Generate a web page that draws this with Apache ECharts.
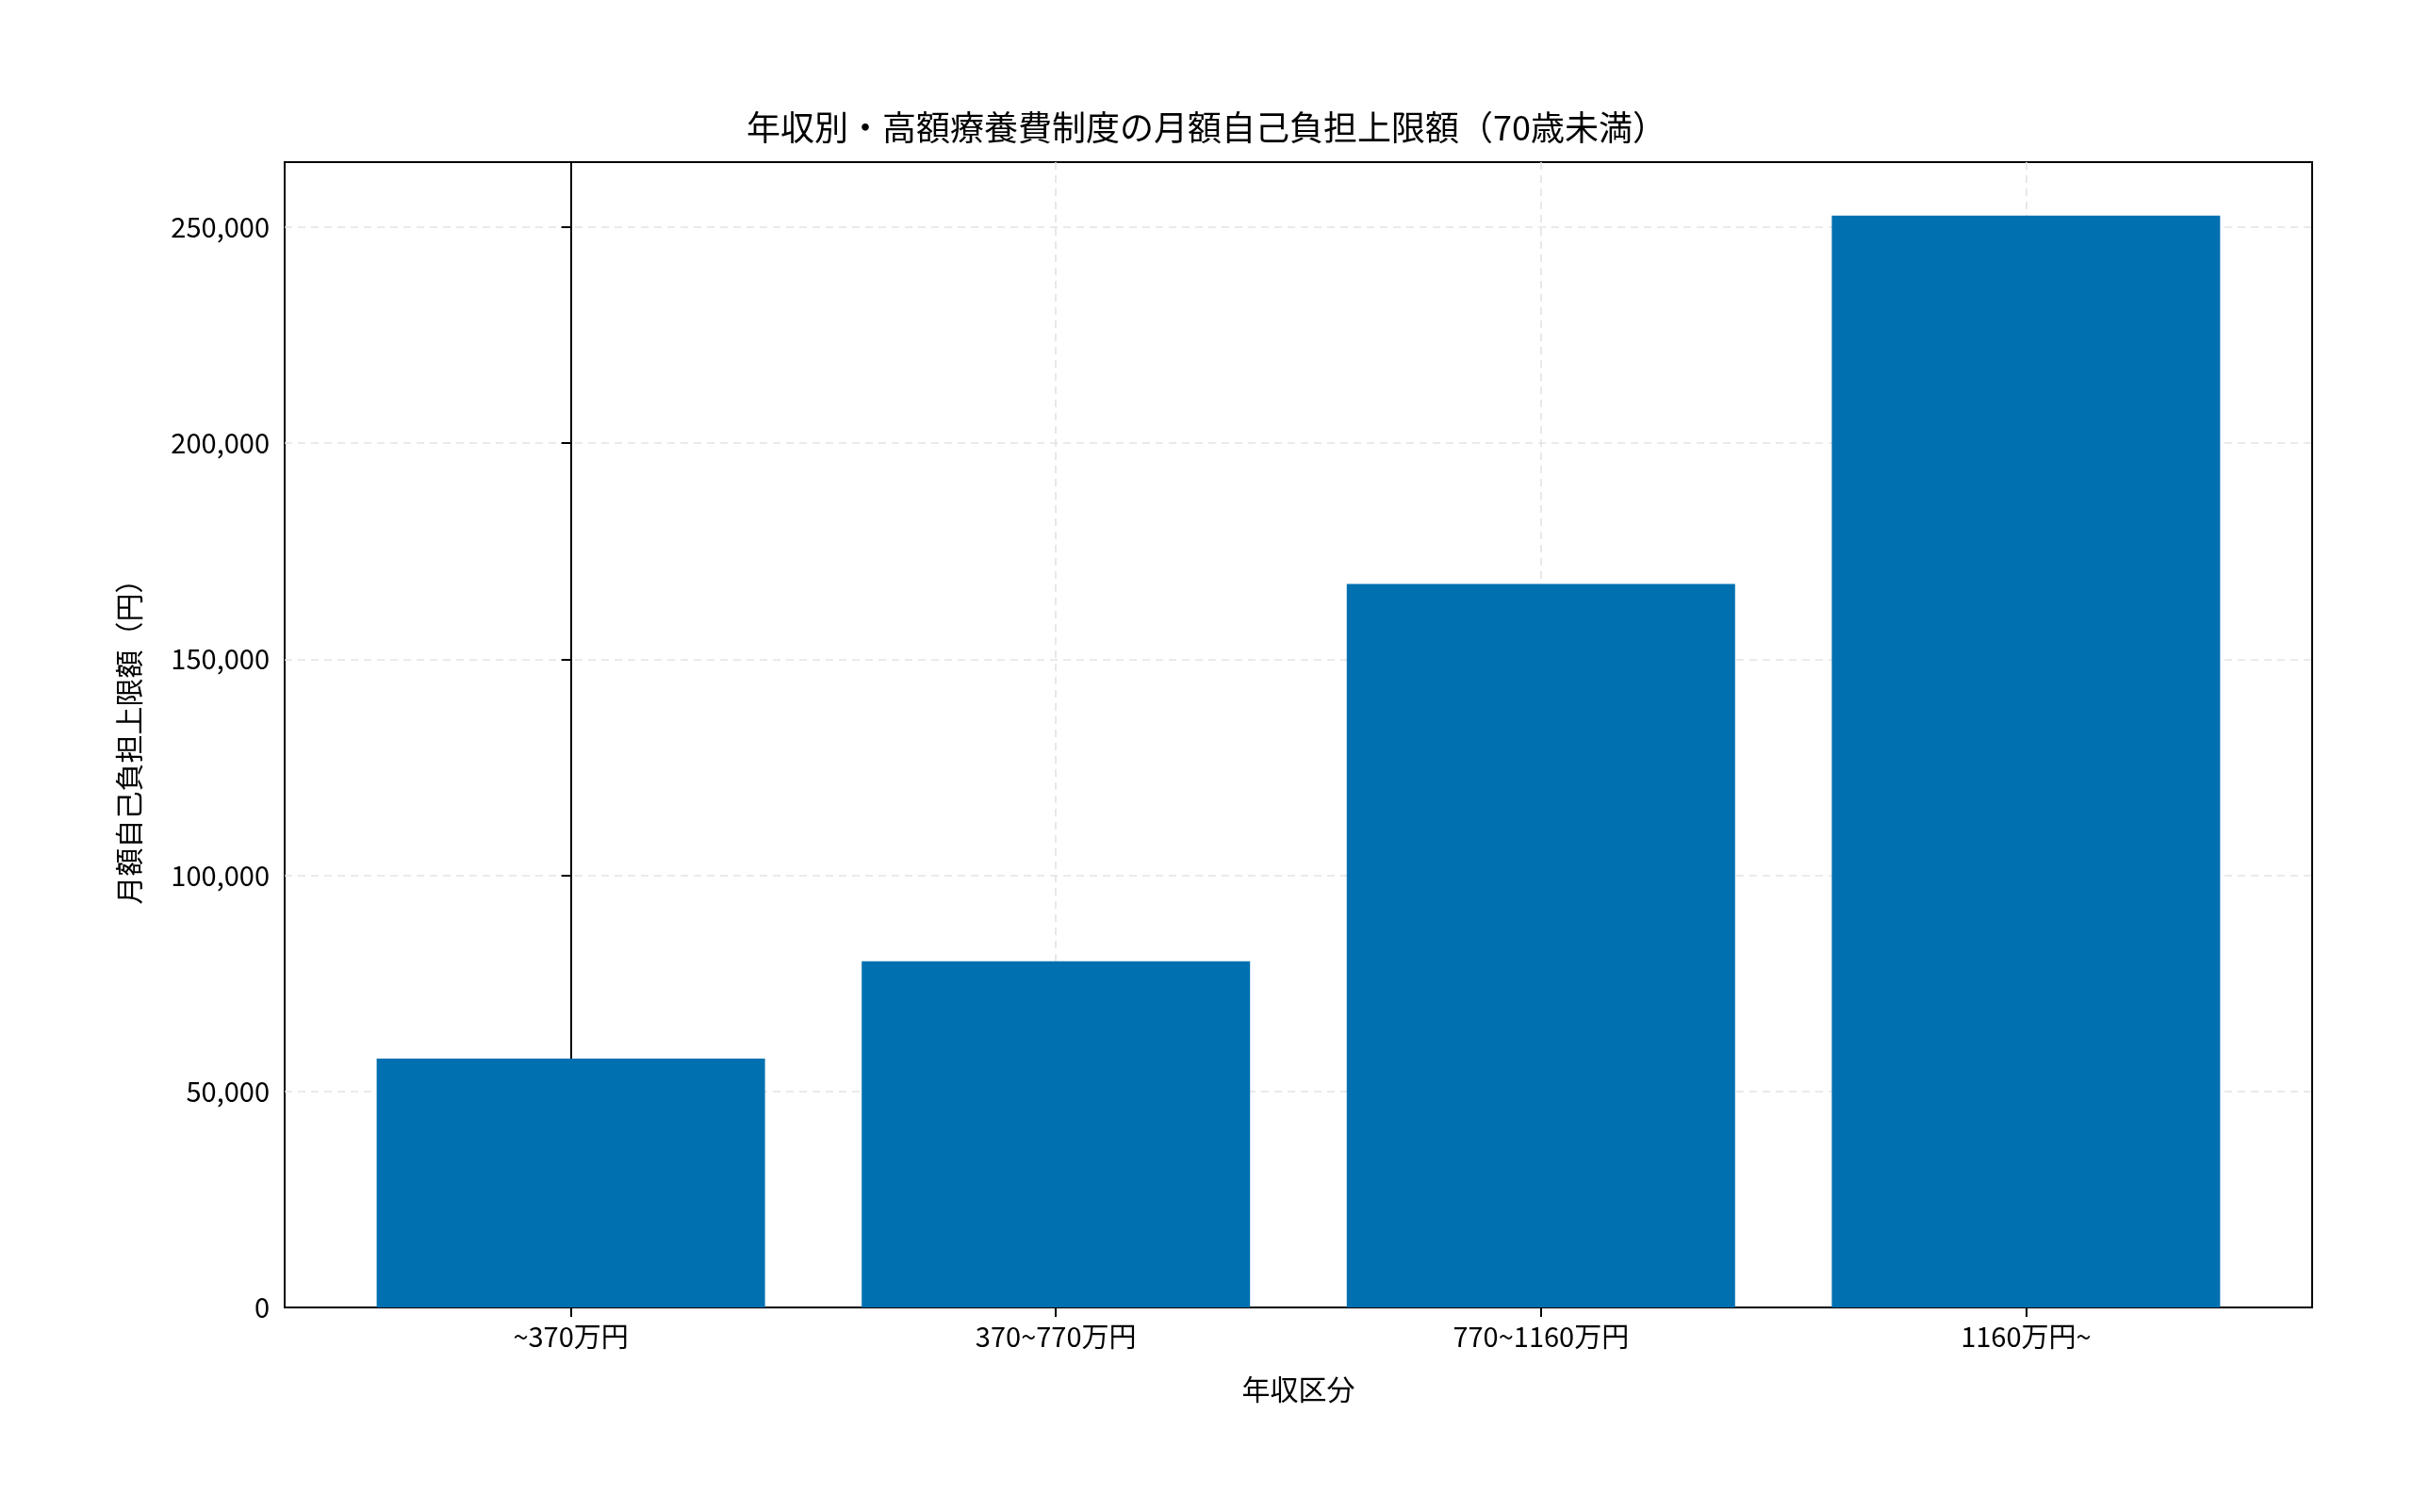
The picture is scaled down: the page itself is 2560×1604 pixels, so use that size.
<!DOCTYPE html>
<html><head><meta charset="utf-8">
<script src="https://cdn.jsdelivr.net/npm/echarts@6/dist/echarts.min.js"></script>
<style>html,body{margin:0;padding:0;background:#fff}#c{width:2560px;height:1604px}</style>
</head><body><div id="c"></div>
<script>
const categories = ['~370万円', '370~770万円', '770~1160万円', '1160万円~'];
const values = [57600, 80100, 167400, 252600];
const yTicks = [0, 50000, 100000, 150000, 200000, 250000];

const font = '"Noto Sans CJK JP", "Noto Sans", sans-serif';
const chart = echarts.init(document.getElementById('c'));
const grid = {color:'#e3e3e3', type:[8,6], width:1.6};
chart.setOption({
  animation:false,
  title:{text:'年収別・高額療養費制度の月額自己負担上限額（70歳未満）', left:'center', top:112,
    textStyle:{fontFamily:font, fontSize:36, fontWeight:'normal', color:'#000'}},
  grid:{left:302, right:107, top:172, bottom:217, show:true, borderColor:'#000', borderWidth:2},
  xAxis:{type:'value', min:-0.59, max:3.59,
    name:'年収区分', nameLocation:'middle', nameGap:72,
    nameTextStyle:{fontFamily:font, fontSize:30, color:'#000'},
    axisLine:{show:true, onZero:false, lineStyle:{color:'#000', width:2}},
    axisTick:{show:true, customValues:[0,1,2,3], length:10, lineStyle:{color:'#000', width:2}},
    axisLabel:{customValues:[0,1,2,3], formatter:v=>categories[Math.round(v)], fontFamily:font, fontSize:29, color:'#000', margin:16},
    splitLine:{show:true, lineStyle:grid}},
  yAxis:{type:'value', min:0, max:265000, interval:50000,
    name:'月額自己負担上限額（円）', nameLocation:'middle', nameGap:150,
    nameTextStyle:{fontFamily:font, fontSize:30, color:'#000'},
    axisLine:{show:true, lineStyle:{color:'#000', width:2}},
    axisTick:{show:true, customValues:yTicks, length:10, lineStyle:{color:'#000', width:2}},
    axisLabel:{customValues:yTicks, fontFamily:font, fontSize:29, color:'#000', margin:16},
    splitLine:{show:true, lineStyle:grid}},
  series:[{type:'bar', barWidth:412, itemStyle:{color:'#0070B0'}, z:1,
    data:values.map((v,i)=>[i,v])}]
});
</script></body></html>
